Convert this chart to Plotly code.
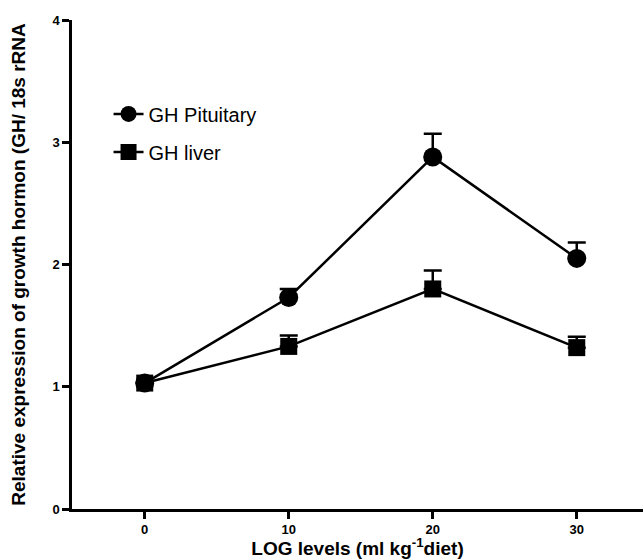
import plotly.graph_objects as go

levels = [0, 10, 20, 30]
pituitary = [1.03, 1.73, 2.88, 2.05]
pituitary_err = [0.0, 0.07, 0.19, 0.13]
liver = [1.03, 1.33, 1.80, 1.32]
liver_err = [0.0, 0.09, 0.15, 0.09]

FONT = "Arial, Liberation Sans, sans-serif"

fig = go.Figure()
fig.add_trace(go.Scatter(
    x=levels, y=pituitary, mode="lines+markers", name="GH Pituitary",
    line=dict(color="black", width=2.5),
    marker=dict(symbol="circle", size=19, color="black"),
    error_y=dict(type="data", array=pituitary_err, arrayminus=[0]*4, symmetric=False,
                 color="black", thickness=2.5, width=9),
    legend="legend",
))
fig.add_trace(go.Scatter(
    x=levels, y=liver, mode="lines+markers", name="GH liver",
    line=dict(color="black", width=2.5),
    marker=dict(symbol="square", size=17, color="black"),
    error_y=dict(type="data", array=liver_err, arrayminus=[0]*4, symmetric=False,
                 color="black", thickness=2.5, width=9),
    legend="legend2",
))

fig.update_layout(
    width=643, height=559,
    margin=dict(l=72, r=0, t=20, b=50, autoexpand=False),
    showlegend=True,
    plot_bgcolor="white", paper_bgcolor="white",
    font=dict(family=FONT, color="black"),
    legend=dict(x=0.064, y=0.808, xanchor="left", yanchor="middle",
                font=dict(size=20, family=FONT), bgcolor="rgba(0,0,0,0)"),
    legend2=dict(x=0.064, y=0.730, xanchor="left", yanchor="middle",
                 font=dict(size=20, family=FONT), bgcolor="rgba(0,0,0,0)"),
    xaxis=dict(
        range=[-5.05, 34.6], tickvals=levels, ticktext=[str(v) for v in levels],
        showgrid=False, zeroline=False, showline=True, linecolor="black", linewidth=2.5,
        ticks="outside", ticklen=7, tickwidth=2.5, tickcolor="black",
        tickfont=dict(size=13, family=FONT, weight="bold"),
        automargin=False,
        title=dict(text="LOG levels (ml kg<sup>-1</sup>diet)",
                   font=dict(size=19, family=FONT, weight="bold"), standoff=4),
    ),
    yaxis=dict(
        range=[0, 4], tickvals=[0, 1, 2, 3, 4],
        showgrid=False, zeroline=False, showline=True, linecolor="black", linewidth=2.5,
        ticks="outside", ticklen=7, tickwidth=2.5, tickcolor="black",
        tickfont=dict(size=13, family=FONT, weight="bold"),
        automargin=False,
        title=dict(text="Relative expression of growth hormon (GH/ 18s rRNA",
                   font=dict(size=19, family=FONT, weight="bold"), standoff=22),
    ),
)

fig.write_html("out.html", config={"displayModeBar": False},
               post_script="document.body.style.margin='0';")
